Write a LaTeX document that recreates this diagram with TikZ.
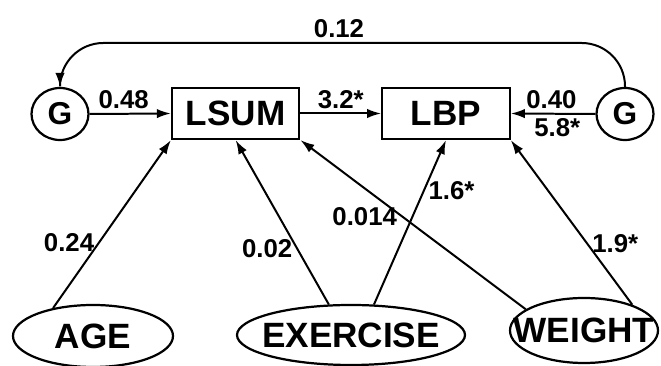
\documentclass[tikz,border=0pt]{standalone}
\usepackage{fontspec}
\setmainfont{Liberation Sans}
\usetikzlibrary{shapes.geometric,arrows.meta}

\tikzset{
  latent/.style={draw, line width=1.9pt, minimum width=3.82cm, minimum height=1.53cm, inner sep=0pt, font=\fontsize{30}{30}\selectfont\bfseries},
  resid/.style={ellipse, draw, line width=1.9pt, minimum width=1.71cm, minimum height=1.56cm, inner sep=0pt, font=\fontsize{27}{27}\selectfont\bfseries},
  cov/.style={ellipse, draw, line width=1.9pt, inner sep=0pt, font=\fontsize{30}{30}\selectfont\bfseries},
  coef/.style={font=\fontsize{22}{22}\selectfont\bfseries},
  arr/.style={-{Latex[length=12pt,width=8pt]}, line width=1.7pt}
}
\newcommand{\word}[1]{\makebox[0pt]{#1}}

\begin{document}
\begin{tikzpicture}
\useasboundingbox (0,0) rectangle (19.83,10.98);

\node[resid] (gl) at (1.80,7.56) {\word{G}};
\node[resid] (gr) at (18.75,7.56) {\word{G}};
\node[latent] (lsum) at (7.07,7.575) {LSUM};
\node[latent] (lbp) at (13.38,7.575) {LBP};

\node[cov, minimum width=4.8cm, minimum height=1.86cm] (age) at (2.79,0.90) {\word{AGE}};
\node[cov, minimum width=6.84cm, minimum height=1.8cm] (exercise) at (10.53,0.93) {\word{EXERCISE}};
\node[cov, minimum width=4.44cm, minimum height=1.95cm] (weight) at (17.52,1.065) {\word{WEIGHT}};

\coordinate (top) at (10.17,9.69);

\draw[arr](gl.east)--node[coef,above,pos=.42]{0.48}(lsum.west);
\draw[arr](lsum.east)--node[coef,above]{3.2*}(lbp.west);
\draw[arr](gr.west)--node[coef,above,pos=.52]{0.40}node[coef,below,pos=.45]{5.8*}(lbp.east);

\draw[arr, {Latex[length=12pt,width=8pt]}-, rounded corners=1.3cm](gl.north) |- (top) node[coef,above]{0.12} -| (gr.north);

\draw[arr](age.145)--node[coef,left,pos=.39]{0.24}(lsum.south west);
\draw[arr](exercise.126)--node[coef,left,pos=.34]{0.02}(lsum.south);
\draw[arr](exercise.53)--node[coef,right,pos=.69]{1.6*}(lbp.south);
\draw[arr](weight.160)--node[coef,left,pos=.55]{0.014}(lsum.south east);
\draw[arr](weight.28)--node[coef,right,pos=.37]{1.9*}(lbp.south east);

\end{tikzpicture}
\end{document}
